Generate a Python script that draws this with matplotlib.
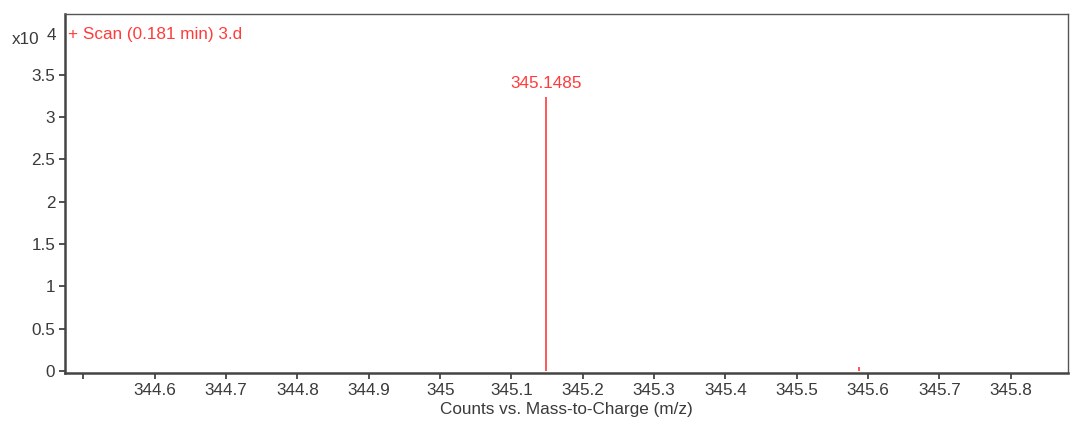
import matplotlib.pyplot as plt

# mass spectrum peaks
mz = [345.1485, 345.587]
counts = [32400, 450]
labelled_peaks = ["345.1485"]

x_ticks = [344.5, 344.6, 344.7, 344.8, 344.9, 345.0, 345.1, 345.2, 345.3, 345.4, 345.5, 345.6, 345.7, 345.8]
x_tick_labels = ["", "344.6", "344.7", "344.8", "344.9", "345", "345.1", "345.2",
                 "345.3", "345.4", "345.5", "345.6", "345.7", "345.8"]
y_ticks = [0, 0.5, 1, 1.5, 2, 2.5, 3, 3.5]

RED = "#ff3b3b"
TEXT = "#3a3a3a"
FS = 12.3

plt.rcParams["font.family"] = ["Liberation Sans", "DejaVu Sans"]

fig = plt.figure(figsize=(10.7, 4.21), dpi=100)
ax = fig.add_axes([0.0607, 0.114, 0.9373, 0.853])

scaled = [c / 1e4 for c in counts]
ax.vlines(mz, 0, scaled, color=RED, linewidth=1.2)
ax.text(mz[0], scaled[0] + 0.07, labelled_peaks[0], color=RED, fontsize=FS,
        ha="center", va="bottom")

ax.set_xlim(344.474, 345.880)
ax.set_ylim(-0.024, 4.22)
ax.set_xticks(x_ticks)
ax.set_xticklabels(x_tick_labels)
ax.set_yticks(y_ticks)
ax.set_yticklabels([f"{v:g}" for v in y_ticks])
ax.tick_params(axis="both", colors="#333333", labelcolor=TEXT, labelsize=FS,
               length=4, width=1.2, pad=3)

for side in ["left", "bottom"]:
    ax.spines[side].set_linewidth(1.8)
    ax.spines[side].set_color("#444444")
for side in ["top", "right"]:
    ax.spines[side].set_linewidth(1.0)
    ax.spines[side].set_color("#555555")

ax.set_xlabel("Counts vs. Mass-to-Charge (m/z)", fontsize=FS, color=TEXT, labelpad=3)

ax.text(0.003, 0.944, "+ Scan (0.181 min) 3.d", transform=ax.transAxes,
        color=RED, fontsize=FS, ha="left", va="center")
fig.text(12 / 1070, 1 - 40 / 421, "x10", color=TEXT, fontsize=FS, ha="left", va="center")
fig.text(47 / 1070, 1 - 36 / 421, "4", color=TEXT, fontsize=FS, ha="left", va="center")

fig.savefig("out.png", dpi=100, facecolor="white")
